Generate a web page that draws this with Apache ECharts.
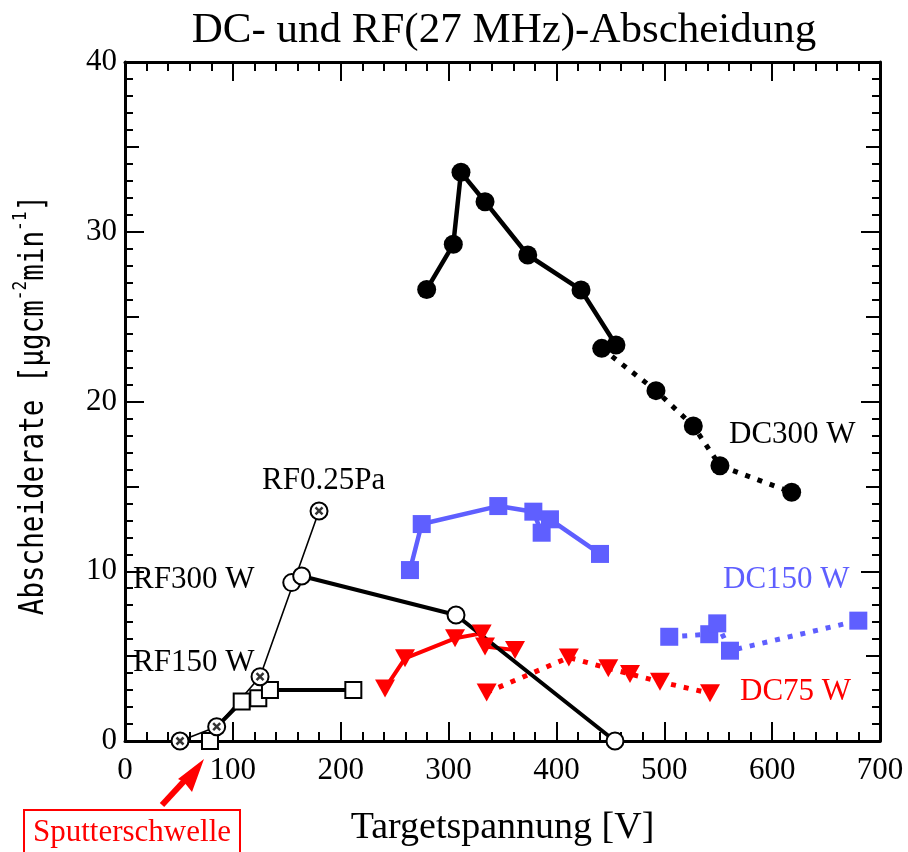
<!DOCTYPE html>
<html><head><meta charset="utf-8">
<script src="https://cdn.jsdelivr.net/npm/echarts@6/dist/echarts.min.js"></script>
<style>html,body{margin:0;padding:0;background:#fff}#c{width:908px;height:852px}</style>
</head><body><div id="c"></div>
<script>
// ---- data (x: Targetspannung [V], y: Abscheiderate) ----
const dc300Solid  = [[279.7,26.6],[304.4,29.26],[311.5,33.5],[333.8,31.77],[373.4,28.63],[422.8,26.57],[455.2,23.33]];
const dc300Dotted = [[442,23.13],[492.3,20.64],[526.9,18.56],[551.6,16.22],[618.1,14.65]];
const dc150Solid  = [[264.2,10.07],[275.1,12.78],[346.1,13.84],[378.6,13.51],[386.3,12.27],[394,13.06],[440.4,11.02]];
const dc150Dotted = [[504.6,6.14],[541.7,6.29],[549.1,6.93],[560.9,5.32],[679.9,7.09]];
const dc75Solid   = [[241.1,3.1],[259.6,4.87],[306,6.05],[330.7,6.34],[333.8,5.56],[361.6,5.36]];
const dc75Dotted  = [[335.3,2.86],[411.5,4.92],[448.1,4.28],[468.2,3.95],[496,3.49],[542.4,2.81]];
const rf300       = [[154.6,9.33],[163.8,9.72],[306.9,7.42],[454.3,0]];
const rf150       = [[85,0.84],[108.2,2.32],[123.6,2.52],[134.4,3.0],[211.7,3.0]];
const rf025Pa     = [[51,0],[85,0.84],[125.2,3.79],[179.9,13.55]];
const threshold   = [[78.8,0]];
const xTickLabels = [0,100,200,300,400,500,600,700];
const yTickLabels = [0,10,20,30,40];

const BLUE = '#5f5fff', RED = '#ff0000', SERIF = '"Liberation Serif","Times New Roman",serif';
const MONO = '"DejaVu Sans Mono","Liberation Mono",monospace';
const chart = echarts.init(document.getElementById('c'));

function xAx(pos, labels){
  return {type:'value', position:pos, min:xTickLabels[0], max:xTickLabels[xTickLabels.length-1], interval:100,
    axisLine:{show:true, onZero:false, lineStyle:{color:'#000', width:3}},
    axisTick:{show:true, inside:true, length:19, lineStyle:{color:'#000', width:2}},
    minorTick:{show:true, splitNumber:5, length:9, lineStyle:{color:'#000', width:2}},
    splitLine:{show:false},
    axisLabel:{show:labels, margin:14, color:'#000', fontSize:31, fontFamily:SERIF},
    name: labels ? 'Targetspannung [V]' : '', nameLocation:'middle', nameGap:68,
    nameTextStyle:{color:'#000', fontSize:38, fontFamily:SERIF}};
}
function yAx(pos, interval, len, labels, line){
  return {type:'value', position:pos, min:yTickLabels[0], max:yTickLabels[yTickLabels.length-1], interval:interval,
    axisLine:{show:line, onZero:false, lineStyle:{color:'#000', width:3}},
    axisTick:{show:true, inside:true, length:len, lineStyle:{color:'#000', width:2}},
    minorTick:{show:line, splitNumber:10, length:8, lineStyle:{color:'#000', width:2}},
    splitLine:{show:false},
    axisLabel:{show:labels, margin:8, color:'#000', fontSize:31, fontFamily:SERIF}};
}

const crossSym = 'path://M0,0L10,10M10,0L0,10';
function lineS(data, color, width, dash, sym, size, fill, border, extra){
  return Object.assign({type:'line', data:data, symbol:sym, symbolSize:size, showSymbol:true, animation:false,
    clip:false, z:2,
    lineStyle:{color:color, width:width, type:dash||'solid', cap:'butt'},
    itemStyle:{color:fill, borderColor:color, borderWidth:border}, emphasis:{disabled:true}}, extra||{});
}

chart.setOption({
  animation:false,
  grid:{left:125, right:28, top:62, bottom:111, containLabel:false},
  xAxis:[xAx('bottom', true), xAx('top', false)],
  yAxis:[yAx('left',10,19,true,true), yAx('left',5,14,false,false), yAx('right',10,19,false,true), yAx('right',5,14,false,false)],
  series:[
    lineS(dc300Solid, '#000', 4.5, 'solid', 'circle', 19, '#000', 0),
    lineS(dc300Dotted, '#000', 5, [5,8], 'circle', 19, '#000', 0),
    lineS(dc150Solid, BLUE, 4.5, 'solid', 'rect', 18, BLUE, 0),
    lineS(dc150Dotted, BLUE, 5, [5,8], 'rect', 18, BLUE, 0),
    lineS(dc75Solid, RED, 4, 'solid', 'triangle', [20,18], RED, 0, {symbolRotate:180}),
    lineS(dc75Dotted, RED, 5, [5,8], 'triangle', [20,18], RED, 0, {symbolRotate:180}),
    lineS(rf300, '#000', 4, 'solid', 'circle', 17, '#fff', 2),
    lineS(rf150.map((p,i)=> i===0 ? {value:p, symbol:'none'} : p), '#000', 4, 'solid', 'rect', 16, '#fff', 2),
    lineS(threshold, '#000', 4, 'solid', 'rect', 16, '#fff', 2),
    lineS(rf025Pa, '#000', 1.6, 'solid', 'circle', 17, '#fff', 2),
    {type:'scatter', data:rf025Pa, symbol:crossSym, symbolSize:7, z:3, animation:false,
      itemStyle:{color:'#000', borderColor:'#000', borderWidth:2.5}, emphasis:{disabled:true}}
  ],
  graphic:[
    {type:'text', x:504, y:31, style:{text:'DC- und RF(27 MHz)-Abscheidung', fontSize:43, fontFamily:SERIF, fill:'#000', align:'center', verticalAlign:'middle'}},
    {type:'text', x:31, y:405, rotation:Math.PI/2, scaleX:0.81,
      style:{text:'{a|Abscheiderate [µgcm}{s|-2}{a|min}{s|-1}{a|]}', align:'center', verticalAlign:'middle',
        rich:{a:{fontSize:34, fontFamily:MONO, lineHeight:40, verticalAlign:'bottom', fill:'#000'},
              s:{fontSize:20, fontFamily:MONO, lineHeight:20, verticalAlign:'top', fill:'#000'}}}},
    {type:'text', x:262, y:481, style:{text:'RF0.25Pa', fontSize:31, fontFamily:SERIF, fill:'#000', verticalAlign:'middle'}},
    {type:'text', x:133, y:580, style:{text:'RF300 W', fontSize:31, fontFamily:SERIF, fill:'#000', verticalAlign:'middle'}},
    {type:'text', x:133, y:663, style:{text:'RF150 W', fontSize:31, fontFamily:SERIF, fill:'#000', verticalAlign:'middle'}},
    {type:'text', x:729, y:435, style:{text:'DC300 W', fontSize:31, fontFamily:SERIF, fill:'#000', verticalAlign:'middle'}},
    {type:'text', x:723, y:580, style:{text:'DC150 W', fontSize:31, fontFamily:SERIF, fill:BLUE, verticalAlign:'middle'}},
    {type:'text', x:740, y:692, style:{text:'DC75 W', fontSize:31, fontFamily:SERIF, fill:RED, verticalAlign:'middle'}},
    {type:'rect', shape:{x:24, y:810, width:216, height:44}, style:{fill:'#fff', stroke:RED, lineWidth:2}},
    {type:'text', x:132, y:833, style:{text:'Sputterschwelle', fontSize:31, fontFamily:SERIF, fill:RED, align:'center', verticalAlign:'middle'}},
    {type:'polyline', shape:{points:[[162,805],[186,779]]}, style:{stroke:RED, lineWidth:6, fill:null}},
    {type:'polygon', shape:{points:[[204,759],[178,779],[184,782],[192,792]]}, style:{fill:RED}}
  ]
});
</script></body></html>
